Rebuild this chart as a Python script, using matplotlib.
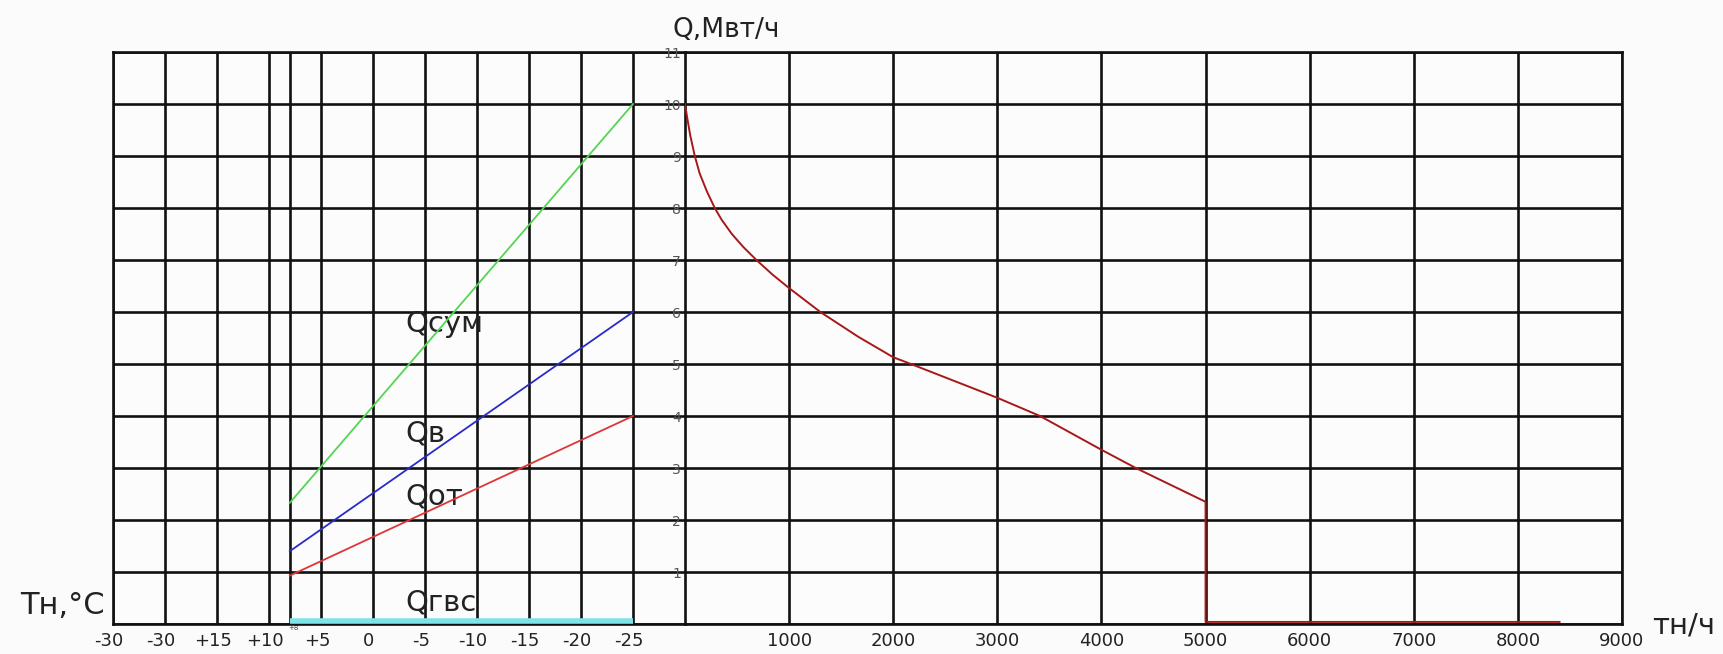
import matplotlib
matplotlib.use("Agg")
import matplotlib.pyplot as plt
import matplotlib.transforms as mtransforms

# ---- data ----
temp_ticks = [25, 20, 15, 10, 5, 0, -5, -10, -15, -20, -25]
temp_labels = ['-30', '-30', '+15', '+10', '+5', '0', '-5', '-10', '-15', '-20', '-25']
temp_extra_tick = 8
temp_extra_label = '+8'

t_line = [8, -25]
q_ot = [0.93, 4.0]
q_v = [1.40, 6.0]
q_sum = [2.33, 10.0]
q_gvs = [0.05, 0.05]

hour_ticks = [1000, 2000, 3000, 4000, 5000, 6000, 7000, 8000, 9000]
hour_labels = ['1000', '2000', '3000', '4000', '5000', '6000', '7000', '8000', '9000']

dur_hours = [0, 20, 50, 94, 140, 210, 286, 350, 450, 560, 686, 840, 1000, 1300,
             1667, 2000, 2170, 3000, 3410, 4000, 4330, 5000, 5000, 8400]
dur_q = [10.0, 9.75, 9.4, 9.0, 8.67, 8.32, 8.0, 7.78, 7.5, 7.25, 7.0, 6.72, 6.46,
         6.0, 5.52, 5.13, 5.0, 4.35, 4.0, 3.35, 3.0, 2.35, 0.04, 0.04]

q_ticks = list(range(0, 12))
q_labels = [''] + [str(i) for i in range(1, 12)]

# ---- figure ----
W, H = 1723, 654
fig = plt.figure(figsize=(W / 100, H / 100), dpi=100)
fig.patch.set_facecolor('#fbfbfb')

def fx(px):
    return px / W

def fy(py):
    return (H - py) / H

x_left, x_mid, x_right = 113, 685, 1622
y_top, y_bot = 52, 624

grid_kw = dict(color='#111111', linewidth=1.9)
bg = '#fcfcfc'

axL = fig.add_axes([fx(x_left), fy(y_bot), fx(x_mid - x_left), (y_bot - y_top) / H])
axR = fig.add_axes([fx(x_mid), fy(y_bot), fx(x_right - x_mid), (y_bot - y_top) / H])

for ax in (axL, axR):
    ax.set_facecolor(bg)
    ax.set_ylim(0, 11)
    ax.set_yticks(q_ticks)
    ax.grid(True, which='both', **grid_kw)
    ax.set_axisbelow(True)
    for s in ax.spines.values():
        s.set_color('#111111')
        s.set_linewidth(1.9)
    ax.tick_params(length=0)

# left (temperature) axes
axL.set_xlim(25, -30)
axL.set_xticks(temp_ticks)
axL.set_xticklabels(temp_labels)
axL.set_xticks([temp_extra_tick], minor=True)
axL.set_xticklabels([temp_extra_label], minor=True)
axL.tick_params(axis='x', which='major', labelsize=13, pad=6, colors='#222222')
axL.tick_params(axis='x', which='minor', labelsize=5, pad=1, length=0, colors='#444444')
axL.tick_params(axis='y', labelleft=False)
axL.spines['right'].set_visible(False)

off = mtransforms.ScaledTranslation(-4 / 100, 0, fig.dpi_scale_trans)
for lab in axL.get_xticklabels():
    lab.set_transform(lab.get_transform() + off)
for lab in axL.get_xticklabels(minor=True):
    lab.set_transform(lab.get_transform() + mtransforms.ScaledTranslation(4 / 100, 0, fig.dpi_scale_trans))

axL.plot(t_line, q_gvs, color='#7fe3ea', linewidth=4, solid_capstyle='butt', zorder=3)
axL.plot(t_line, q_sum, color='#55d455', linewidth=1.3, zorder=4)
axL.plot(t_line, q_v, color='#2a2ac8', linewidth=1.3, zorder=4)
axL.plot(t_line, q_ot, color='#e03535', linewidth=1.3, zorder=4)

lab_kw = dict(fontsize=21, color='#222222', ha='left', va='center', family='DejaVu Sans')
axL.text(-3.1, 5.77, 'Qсум', **lab_kw)
axL.text(-3.1, 3.67, 'Qв', **lab_kw)
axL.text(-3.1, 2.46, 'Qот', **lab_kw)
axL.text(-3.1, 0.42, 'Qгвс', **lab_kw)

# right (hours) axes
axR.set_xlim(0, 9000)
axR.set_xticks(hour_ticks)
axR.set_xticklabels(hour_labels)
axR.set_yticklabels(q_labels)
axR.tick_params(axis='x', labelsize=13, pad=6, colors='#222222')
axR.tick_params(axis='y', labelsize=10, pad=3, colors='#555555')
axR.plot(dur_hours, dur_q, color='#a81818', linewidth=1.4, zorder=4)

# axis titles
fig.text(fx(105), fy(605), 'Tн,°C', fontsize=22, ha='right', va='center', color='#222222')
fig.text(fx(673), fy(30), 'Q,Мвт/ч', fontsize=19, ha='left', va='center', color='#222222')
fig.text(fx(1652), fy(625), 'тн/ч', fontsize=21, ha='left', va='center', color='#222222')

fig.savefig('out.png', dpi=100, facecolor=fig.get_facecolor())
